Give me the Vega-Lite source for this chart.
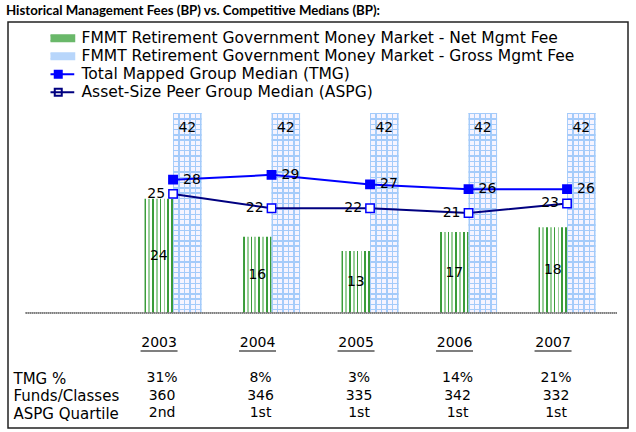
{
  "$schema": "https://vega.github.io/schema/vega-lite/v6.json",
  "width": 620,
  "height": 406,
  "autosize": {"type": "none"},
  "padding": {"left": 8, "top": 22, "right": 8, "bottom": 4},
  "background": "white",
  "title": {"text": "Historical Management Fees (BP) vs. Competitive Medians (BP):", "anchor": "start", "font": "Lato", "fontWeight": "bold", "fontSize": 13.25, "color": "black", "offset": 4, "dx": -2},
  "config": {
    "view": {"stroke": "#222222", "strokeWidth": 1.5},
    "font": "DejaVu Sans"
  },
  "datasets": {
    "fees": [
      {"year": "2003", "series": "Net", "value": 24},
      {"year": "2003", "series": "Gross", "value": 42},
      {"year": "2003", "series": "TMG", "value": 28},
      {"year": "2003", "series": "ASPG", "value": 25},
      {"year": "2004", "series": "Net", "value": 16},
      {"year": "2004", "series": "Gross", "value": 42},
      {"year": "2004", "series": "TMG", "value": 29},
      {"year": "2004", "series": "ASPG", "value": 22},
      {"year": "2005", "series": "Net", "value": 13},
      {"year": "2005", "series": "Gross", "value": 42},
      {"year": "2005", "series": "TMG", "value": 27},
      {"year": "2005", "series": "ASPG", "value": 22},
      {"year": "2006", "series": "Net", "value": 17},
      {"year": "2006", "series": "Gross", "value": 42},
      {"year": "2006", "series": "TMG", "value": 26},
      {"year": "2006", "series": "ASPG", "value": 21},
      {"year": "2007", "series": "Net", "value": 18},
      {"year": "2007", "series": "Gross", "value": 42},
      {"year": "2007", "series": "TMG", "value": 26},
      {"year": "2007", "series": "ASPG", "value": 23}
    ],
    "table": [
      {"year": "2003", "row": "Year", "text": "2003"},
      {"year": "2004", "row": "Year", "text": "2004"},
      {"year": "2005", "row": "Year", "text": "2005"},
      {"year": "2006", "row": "Year", "text": "2006"},
      {"year": "2007", "row": "Year", "text": "2007"},
      {"year": "2003", "row": "TMG %", "text": "31%"},
      {"year": "2004", "row": "TMG %", "text": "8%"},
      {"year": "2005", "row": "TMG %", "text": "3%"},
      {"year": "2006", "row": "TMG %", "text": "14%"},
      {"year": "2007", "row": "TMG %", "text": "21%"},
      {"year": "2003", "row": "Funds/Classes", "text": "360"},
      {"year": "2004", "row": "Funds/Classes", "text": "346"},
      {"year": "2005", "row": "Funds/Classes", "text": "335"},
      {"year": "2006", "row": "Funds/Classes", "text": "342"},
      {"year": "2007", "row": "Funds/Classes", "text": "332"},
      {"year": "2003", "row": "ASPG Quartile", "text": "2nd"},
      {"year": "2004", "row": "ASPG Quartile", "text": "1st"},
      {"year": "2005", "row": "ASPG Quartile", "text": "1st"},
      {"year": "2006", "row": "ASPG Quartile", "text": "1st"},
      {"year": "2007", "row": "ASPG Quartile", "text": "1st"}
    ]
  },
  "resolve": {"scale": {"y": "independent"}},
  "layer": [
    {
      "data": {"name": "fees"},
      "transform": [{"filter": {"field": "series", "equal": "Net"}}],
      "mark": {"type": "bar", "fill": {"gradient": "linear", "x1": 0, "x2": 1, "y1": 0, "y2": 0, "stops": [
        {"offset": 0, "color": "#3a9c3a"}, {"offset": 0.06, "color": "#3a9c3a"}, {"offset": 0.06, "color": "#ffffff"}, {"offset": 0.133, "color": "#ffffff"},
        {"offset": 0.133, "color": "#98cf98"}, {"offset": 0.193, "color": "#98cf98"}, {"offset": 0.193, "color": "#ffffff"}, {"offset": 0.266, "color": "#ffffff"},
        {"offset": 0.266, "color": "#3a9c3a"}, {"offset": 0.326, "color": "#3a9c3a"}, {"offset": 0.326, "color": "#ffffff"}, {"offset": 0.4, "color": "#ffffff"},
        {"offset": 0.4, "color": "#98cf98"}, {"offset": 0.46, "color": "#98cf98"}, {"offset": 0.46, "color": "#ffffff"}, {"offset": 0.533, "color": "#ffffff"},
        {"offset": 0.533, "color": "#3a9c3a"}, {"offset": 0.593, "color": "#3a9c3a"}, {"offset": 0.593, "color": "#ffffff"}, {"offset": 0.666, "color": "#ffffff"},
        {"offset": 0.666, "color": "#98cf98"}, {"offset": 0.726, "color": "#98cf98"}, {"offset": 0.726, "color": "#ffffff"}, {"offset": 0.8, "color": "#ffffff"},
        {"offset": 0.8, "color": "#3a9c3a"}, {"offset": 0.86, "color": "#3a9c3a"}, {"offset": 0.86, "color": "#ffffff"}, {"offset": 0.94, "color": "#ffffff"},
        {"offset": 0.94, "color": "#3a9c3a"}, {"offset": 1, "color": "#3a9c3a"}]}},
      "encoding": {
        "x": {"field": "year", "type": "nominal", "scale": {"domain": ["2003", "2004", "2005", "2006", "2007"], "paddingInner": 0.421, "paddingOuter": 0.8578, "align": 0.808}, "axis": null},
        "xOffset": {"field": "series", "type": "nominal", "scale": {"domain": ["Net", "Gross"], "paddingInner": 0, "paddingOuter": 0}},
        "y": {"field": "value", "type": "quantitative", "scale": {"domain": [-24.15, 61.1], "nice": false, "zero": false}, "axis": null}
      }
    },
    {
      "data": {"name": "fees"},
      "transform": [{"filter": {"field": "series", "equal": "Gross"}}],
      "mark": {"type": "bar", "fill": {"gradient": "linear", "x1": 0, "x2": 1, "y1": 0, "y2": 0, "stops": [
        {"offset": 0, "color": "#a4cbfa"}, {"offset": 0.05, "color": "#a4cbfa"}, {"offset": 0.05, "color": "#f6f4ff"}, {"offset": 0.19, "color": "#f6f4ff"},
        {"offset": 0.19, "color": "#a4cbfa"}, {"offset": 0.24, "color": "#a4cbfa"}, {"offset": 0.24, "color": "#f6f4ff"}, {"offset": 0.38, "color": "#f6f4ff"},
        {"offset": 0.38, "color": "#a4cbfa"}, {"offset": 0.43, "color": "#a4cbfa"}, {"offset": 0.43, "color": "#f6f4ff"}, {"offset": 0.57, "color": "#f6f4ff"},
        {"offset": 0.57, "color": "#a4cbfa"}, {"offset": 0.62, "color": "#a4cbfa"}, {"offset": 0.62, "color": "#f6f4ff"}, {"offset": 0.76, "color": "#f6f4ff"},
        {"offset": 0.76, "color": "#a4cbfa"}, {"offset": 0.81, "color": "#a4cbfa"}, {"offset": 0.81, "color": "#f6f4ff"}, {"offset": 0.95, "color": "#f6f4ff"},
        {"offset": 0.95, "color": "#a4cbfa"}, {"offset": 1, "color": "#a4cbfa"}]}},
      "encoding": {
        "x": {"field": "year", "type": "nominal"},
        "xOffset": {"field": "series", "type": "nominal"},
        "y": {"field": "value", "type": "quantitative", "scale": {"domain": [-24.15, 61.1], "nice": false, "zero": false}, "axis": null}
      }
    },
    {
      "data": {"name": "fees"},
      "transform": [{"filter": {"field": "series", "equal": "Gross"}}],
      "mark": {"type": "bar", "fill": {"gradient": "linear", "x1": 0, "x2": 0, "y1": 0, "y2": 1, "stops": [
        {"offset": 0, "color": "#a4cbfa"}, {"offset": 0.007, "color": "#a4cbfa"}, {"offset": 0.007, "color": "rgba(164,203,250,0)"}, {"offset": 0.0265, "color": "rgba(164,203,250,0)"},
        {"offset": 0.0265, "color": "#a4cbfa"}, {"offset": 0.0335, "color": "#a4cbfa"}, {"offset": 0.0335, "color": "rgba(164,203,250,0)"}, {"offset": 0.053, "color": "rgba(164,203,250,0)"},
        {"offset": 0.053, "color": "#a4cbfa"}, {"offset": 0.06, "color": "#a4cbfa"}, {"offset": 0.06, "color": "rgba(164,203,250,0)"}, {"offset": 0.0795, "color": "rgba(164,203,250,0)"},
        {"offset": 0.0795, "color": "#a4cbfa"}, {"offset": 0.0865, "color": "#a4cbfa"}, {"offset": 0.0865, "color": "rgba(164,203,250,0)"}, {"offset": 0.106, "color": "rgba(164,203,250,0)"},
        {"offset": 0.106, "color": "#a4cbfa"}, {"offset": 0.113, "color": "#a4cbfa"}, {"offset": 0.113, "color": "rgba(164,203,250,0)"}, {"offset": 0.1325, "color": "rgba(164,203,250,0)"},
        {"offset": 0.1325, "color": "#a4cbfa"}, {"offset": 0.1395, "color": "#a4cbfa"}, {"offset": 0.1395, "color": "rgba(164,203,250,0)"}, {"offset": 0.159, "color": "rgba(164,203,250,0)"},
        {"offset": 0.159, "color": "#a4cbfa"}, {"offset": 0.166, "color": "#a4cbfa"}, {"offset": 0.166, "color": "rgba(164,203,250,0)"}, {"offset": 0.1855, "color": "rgba(164,203,250,0)"},
        {"offset": 0.1855, "color": "#a4cbfa"}, {"offset": 0.1925, "color": "#a4cbfa"}, {"offset": 0.1925, "color": "rgba(164,203,250,0)"}, {"offset": 0.212, "color": "rgba(164,203,250,0)"},
        {"offset": 0.212, "color": "#a4cbfa"}, {"offset": 0.219, "color": "#a4cbfa"}, {"offset": 0.219, "color": "rgba(164,203,250,0)"}, {"offset": 0.2385, "color": "rgba(164,203,250,0)"},
        {"offset": 0.2385, "color": "#a4cbfa"}, {"offset": 0.2455, "color": "#a4cbfa"}, {"offset": 0.2455, "color": "rgba(164,203,250,0)"}, {"offset": 0.265, "color": "rgba(164,203,250,0)"},
        {"offset": 0.265, "color": "#a4cbfa"}, {"offset": 0.272, "color": "#a4cbfa"}, {"offset": 0.272, "color": "rgba(164,203,250,0)"}, {"offset": 0.2915, "color": "rgba(164,203,250,0)"},
        {"offset": 0.2915, "color": "#a4cbfa"}, {"offset": 0.2985, "color": "#a4cbfa"}, {"offset": 0.2985, "color": "rgba(164,203,250,0)"}, {"offset": 0.318, "color": "rgba(164,203,250,0)"},
        {"offset": 0.318, "color": "#a4cbfa"}, {"offset": 0.325, "color": "#a4cbfa"}, {"offset": 0.325, "color": "rgba(164,203,250,0)"}, {"offset": 0.3445, "color": "rgba(164,203,250,0)"},
        {"offset": 0.3445, "color": "#a4cbfa"}, {"offset": 0.3515, "color": "#a4cbfa"}, {"offset": 0.3515, "color": "rgba(164,203,250,0)"}, {"offset": 0.371, "color": "rgba(164,203,250,0)"},
        {"offset": 0.371, "color": "#a4cbfa"}, {"offset": 0.378, "color": "#a4cbfa"}, {"offset": 0.378, "color": "rgba(164,203,250,0)"}, {"offset": 0.3975, "color": "rgba(164,203,250,0)"},
        {"offset": 0.3975, "color": "#a4cbfa"}, {"offset": 0.4045, "color": "#a4cbfa"}, {"offset": 0.4045, "color": "rgba(164,203,250,0)"}, {"offset": 0.424, "color": "rgba(164,203,250,0)"},
        {"offset": 0.424, "color": "#a4cbfa"}, {"offset": 0.431, "color": "#a4cbfa"}, {"offset": 0.431, "color": "rgba(164,203,250,0)"}, {"offset": 0.4505, "color": "rgba(164,203,250,0)"},
        {"offset": 0.4505, "color": "#a4cbfa"}, {"offset": 0.4575, "color": "#a4cbfa"}, {"offset": 0.4575, "color": "rgba(164,203,250,0)"}, {"offset": 0.477, "color": "rgba(164,203,250,0)"},
        {"offset": 0.477, "color": "#a4cbfa"}, {"offset": 0.484, "color": "#a4cbfa"}, {"offset": 0.484, "color": "rgba(164,203,250,0)"}, {"offset": 0.5035, "color": "rgba(164,203,250,0)"},
        {"offset": 0.5035, "color": "#a4cbfa"}, {"offset": 0.5105, "color": "#a4cbfa"}, {"offset": 0.5105, "color": "rgba(164,203,250,0)"}, {"offset": 0.53, "color": "rgba(164,203,250,0)"},
        {"offset": 0.53, "color": "#a4cbfa"}, {"offset": 0.537, "color": "#a4cbfa"}, {"offset": 0.537, "color": "rgba(164,203,250,0)"}, {"offset": 0.5565, "color": "rgba(164,203,250,0)"},
        {"offset": 0.5565, "color": "#a4cbfa"}, {"offset": 0.5635, "color": "#a4cbfa"}, {"offset": 0.5635, "color": "rgba(164,203,250,0)"}, {"offset": 0.583, "color": "rgba(164,203,250,0)"},
        {"offset": 0.583, "color": "#a4cbfa"}, {"offset": 0.59, "color": "#a4cbfa"}, {"offset": 0.59, "color": "rgba(164,203,250,0)"}, {"offset": 0.6095, "color": "rgba(164,203,250,0)"},
        {"offset": 0.6095, "color": "#a4cbfa"}, {"offset": 0.6165, "color": "#a4cbfa"}, {"offset": 0.6165, "color": "rgba(164,203,250,0)"}, {"offset": 0.636, "color": "rgba(164,203,250,0)"},
        {"offset": 0.636, "color": "#a4cbfa"}, {"offset": 0.643, "color": "#a4cbfa"}, {"offset": 0.643, "color": "rgba(164,203,250,0)"}, {"offset": 0.6625, "color": "rgba(164,203,250,0)"},
        {"offset": 0.6625, "color": "#a4cbfa"}, {"offset": 0.6695, "color": "#a4cbfa"}, {"offset": 0.6695, "color": "rgba(164,203,250,0)"}, {"offset": 0.689, "color": "rgba(164,203,250,0)"},
        {"offset": 0.689, "color": "#a4cbfa"}, {"offset": 0.696, "color": "#a4cbfa"}, {"offset": 0.696, "color": "rgba(164,203,250,0)"}, {"offset": 0.7155, "color": "rgba(164,203,250,0)"},
        {"offset": 0.7155, "color": "#a4cbfa"}, {"offset": 0.7225, "color": "#a4cbfa"}, {"offset": 0.7225, "color": "rgba(164,203,250,0)"}, {"offset": 0.742, "color": "rgba(164,203,250,0)"},
        {"offset": 0.742, "color": "#a4cbfa"}, {"offset": 0.749, "color": "#a4cbfa"}, {"offset": 0.749, "color": "rgba(164,203,250,0)"}, {"offset": 0.7685, "color": "rgba(164,203,250,0)"},
        {"offset": 0.7685, "color": "#a4cbfa"}, {"offset": 0.7755, "color": "#a4cbfa"}, {"offset": 0.7755, "color": "rgba(164,203,250,0)"}, {"offset": 0.795, "color": "rgba(164,203,250,0)"},
        {"offset": 0.795, "color": "#a4cbfa"}, {"offset": 0.802, "color": "#a4cbfa"}, {"offset": 0.802, "color": "rgba(164,203,250,0)"}, {"offset": 0.8215, "color": "rgba(164,203,250,0)"},
        {"offset": 0.8215, "color": "#a4cbfa"}, {"offset": 0.8285, "color": "#a4cbfa"}, {"offset": 0.8285, "color": "rgba(164,203,250,0)"}, {"offset": 0.848, "color": "rgba(164,203,250,0)"},
        {"offset": 0.848, "color": "#a4cbfa"}, {"offset": 0.855, "color": "#a4cbfa"}, {"offset": 0.855, "color": "rgba(164,203,250,0)"}, {"offset": 0.8745, "color": "rgba(164,203,250,0)"},
        {"offset": 0.8745, "color": "#a4cbfa"}, {"offset": 0.8815, "color": "#a4cbfa"}, {"offset": 0.8815, "color": "rgba(164,203,250,0)"}, {"offset": 0.901, "color": "rgba(164,203,250,0)"},
        {"offset": 0.901, "color": "#a4cbfa"}, {"offset": 0.908, "color": "#a4cbfa"}, {"offset": 0.908, "color": "rgba(164,203,250,0)"}, {"offset": 0.9275, "color": "rgba(164,203,250,0)"},
        {"offset": 0.9275, "color": "#a4cbfa"}, {"offset": 0.9345, "color": "#a4cbfa"}, {"offset": 0.9345, "color": "rgba(164,203,250,0)"}, {"offset": 0.954, "color": "rgba(164,203,250,0)"},
        {"offset": 0.954, "color": "#a4cbfa"}, {"offset": 0.961, "color": "#a4cbfa"}, {"offset": 0.961, "color": "rgba(164,203,250,0)"}, {"offset": 0.9805, "color": "rgba(164,203,250,0)"},
        {"offset": 0.9805, "color": "#a4cbfa"}, {"offset": 0.9875, "color": "#a4cbfa"}, {"offset": 0.9875, "color": "rgba(164,203,250,0)"}, {"offset": 1, "color": "rgba(164,203,250,0)"}]}},
      "encoding": {
        "x": {"field": "year", "type": "nominal"},
        "xOffset": {"field": "series", "type": "nominal"},
        "y": {"field": "value", "type": "quantitative", "scale": {"domain": [-24.15, 61.1], "nice": false, "zero": false}, "axis": null}
      }
    },
    {
      "data": {"name": "fees"},
      "transform": [{"filter": {"field": "series", "equal": "Gross"}}],
      "mark": {"type": "text", "fontSize": 14, "dy": 15, "baseline": "middle", "color": "black"},
      "encoding": {
        "x": {"field": "year", "type": "nominal"},
        "xOffset": {"field": "series", "type": "nominal"},
        "y": {"field": "value", "type": "quantitative", "scale": {"domain": [-24.15, 61.1], "nice": false, "zero": false}, "axis": null},
        "text": {"field": "value"}
      }
    },
    {
      "data": {"name": "fees"},
      "transform": [{"filter": {"field": "series", "equal": "Net"}}],
      "mark": {"type": "text", "fontSize": 14, "baseline": "middle", "color": "black"},
      "encoding": {
        "x": {"field": "year", "type": "nominal"},
        "xOffset": {"field": "series", "type": "nominal"},
        "y": {"field": "value", "type": "quantitative", "scale": {"domain": [-48.3, 122.2], "nice": false, "zero": false}, "axis": null},
        "text": {"field": "value"}
      }
    },
    {
      "data": {"name": "fees"},
      "mark": {"type": "rule", "color": "#808080", "strokeWidth": 1, "strokeDash": [1, 1]},
      "encoding": {
        "x": {"datum": "2003", "bandPosition": -2.08},
        "x2": {"datum": "2007", "bandPosition": 1.377},
        "y": {"datum": 0, "type": "quantitative", "scale": {"domain": [-24.15, 61.1], "nice": false, "zero": false}, "axis": null}
      }
    },
    {
      "data": {"name": "fees"},
      "transform": [{"filter": {"field": "series", "oneOf": ["TMG", "ASPG"]}}],
      "mark": {"type": "line", "strokeWidth": 2},
      "encoding": {
        "x": {"field": "year", "type": "nominal"},
        "y": {"field": "value", "type": "quantitative", "scale": {"domain": [-24.15, 61.1], "nice": false, "zero": false}, "axis": null},
        "stroke": {"field": "series", "type": "nominal"}
      }
    },
    {
      "data": {"name": "fees"},
      "transform": [{"filter": {"field": "series", "oneOf": ["TMG", "ASPG"]}}],
      "mark": {"type": "point", "shape": "square", "size": 70, "filled": true, "opacity": 1, "stroke": "#0000ff", "strokeWidth": 1.5},
      "encoding": {
        "x": {"field": "year", "type": "nominal"},
        "y": {"field": "value", "type": "quantitative", "scale": {"domain": [-24.15, 61.1], "nice": false, "zero": false}, "axis": null},
        "fill": {"field": "series", "type": "nominal"}
      }
    },
    {
      "data": {"name": "fees"},
      "transform": [{"filter": {"field": "series", "equal": "TMG"}}],
      "mark": {"type": "text", "fontSize": 14, "align": "left", "dx": 10, "baseline": "middle", "color": "black"},
      "encoding": {
        "x": {"field": "year", "type": "nominal"},
        "y": {"field": "value", "type": "quantitative", "scale": {"domain": [-24.15, 61.1], "nice": false, "zero": false}, "axis": null},
        "text": {"field": "value"}
      }
    },
    {
      "data": {"name": "fees"},
      "transform": [{"filter": {"field": "series", "equal": "ASPG"}}],
      "mark": {"type": "text", "fontSize": 14, "align": "right", "dx": -8, "baseline": "middle", "color": "black"},
      "encoding": {
        "x": {"field": "year", "type": "nominal"},
        "y": {"field": "value", "type": "quantitative", "scale": {"domain": [-24.15, 61.1], "nice": false, "zero": false}, "axis": null},
        "text": {"field": "value"}
      }
    },
    {
      "data": {"name": "table"},
      "transform": [{"filter": "datum.row != 'Year'"}],
      "mark": {"type": "text", "fontSize": 14, "align": "center", "baseline": "middle", "xOffset": -11, "color": "black"},
      "encoding": {
        "x": {"field": "year", "type": "nominal"},
        "y": {"field": "row", "type": "nominal", "scale": {"type": "point", "domain": ["Year", "gap", "TMG %", "Funds/Classes", "ASPG Quartile"], "range": [321, 391], "padding": 0},
          "axis": {"orient": "left", "labelAlign": "left", "ticks": false, "tickSize": 0, "domain": false, "grid": false, "labelPadding": -5, "labelFontSize": 15, "labelColor": "black", "labelFont": "DejaVu Sans", "labelBaseline": "middle", "title": null, "labelExpr": "datum.label == 'Year' || datum.label == 'gap' ? '' : datum.label"}},
        "text": {"field": "text"}
      }
    },
    {
      "data": {"name": "table"},
      "transform": [{"filter": "datum.row == 'Year'"}],
      "mark": {"type": "text", "fontSize": 14, "align": "center", "baseline": "middle", "xOffset": -14, "color": "black"},
      "encoding": {
        "x": {"field": "year", "type": "nominal"},
        "y": {"field": "row", "type": "nominal", "scale": {"type": "point", "domain": ["Year", "gap", "TMG %", "Funds/Classes", "ASPG Quartile"], "range": [321, 391], "padding": 0}, "axis": null},
        "text": {"field": "text"}
      }
    },
    {
      "data": {"name": "table"},
      "transform": [{"filter": "datum.row == 'Year'"}],
      "mark": {"type": "tick", "orient": "horizontal", "size": 37, "thickness": 1, "xOffset": -14, "yOffset": 8, "color": "black", "opacity": 1},
      "encoding": {
        "x": {"field": "year", "type": "nominal"},
        "y": {"field": "row", "type": "nominal", "scale": {"type": "point", "domain": ["Year", "gap", "TMG %", "Funds/Classes", "ASPG Quartile"], "range": [321, 391], "padding": 0}, "axis": null}
      }
    },
    {
      "data": {"name": "fees"},
      "transform": [{"filter": "false"}],
      "mark": {"type": "point", "filled": true, "opacity": 1},
      "encoding": {
        "fill": {"field": "series", "type": "nominal",
          "scale": {"domain": ["Net", "Gross", "TMG", "ASPG"], "range": ["#6ab86a", "#b8d6fb", "#0000ff", "#ffffff"]},
          "legend": {"orient": "none", "legendX": 42.5, "legendY": 10, "title": null, "labelFontSize": 15.5, "labelColor": "black", "symbolSize": 100, "symbolStrokeWidth": 2, "symbolOpacity": 1, "clipHeight": 12.5, "rowPadding": 2, "labelOffset": 15.5, "padding": 0, "labelLimit": 600,
            "labelExpr": "{'Net': 'FMMT Retirement Government Money Market - Net Mgmt Fee', 'Gross': 'FMMT Retirement Government Money Market - Gross Mgmt Fee', 'TMG': 'Total Mapped Group Median (TMG)', 'ASPG': 'Asset-Size Peer Group Median (ASPG)'}[datum.label]"}},
        "stroke": {"field": "series", "type": "nominal",
          "scale": {"domain": ["Net", "Gross", "TMG", "ASPG"], "range": ["#6ab86a", "#b8d6fb", "#0000ff", "#000080"]},
          "legend": {"orient": "none", "legendX": 42.5, "legendY": 10, "title": null, "labelFontSize": 15.5, "labelColor": "black", "symbolSize": 100, "symbolStrokeWidth": 2, "symbolOpacity": 1, "clipHeight": 12.5, "rowPadding": 2, "labelOffset": 15.5, "padding": 0, "labelLimit": 600,
            "labelExpr": "{'Net': 'FMMT Retirement Government Money Market - Net Mgmt Fee', 'Gross': 'FMMT Retirement Government Money Market - Gross Mgmt Fee', 'TMG': 'Total Mapped Group Median (TMG)', 'ASPG': 'Asset-Size Peer Group Median (ASPG)'}[datum.label]"}},
        "shape": {"field": "series", "type": "nominal",
          "scale": {"domain": ["Net", "Gross", "TMG", "ASPG"], "range": ["M-3.2,-0.6H3.2V0.6H-3.2Z", "M-3.2,-0.6H3.2V0.6H-3.2Z", "M-3.2,0H3.2M-0.7,-0.7H0.7V0.7H-0.7Z", "M-3.2,0H3.2M-0.7,-0.7H0.7V0.7H-0.7Z"]},
          "legend": {"orient": "none", "legendX": 42.5, "legendY": 10, "title": null, "labelFontSize": 15.5, "labelColor": "black", "symbolSize": 100, "symbolStrokeWidth": 2, "symbolOpacity": 1, "clipHeight": 12.5, "rowPadding": 2, "labelOffset": 15.5, "padding": 0, "labelLimit": 600,
            "labelExpr": "{'Net': 'FMMT Retirement Government Money Market - Net Mgmt Fee', 'Gross': 'FMMT Retirement Government Money Market - Gross Mgmt Fee', 'TMG': 'Total Mapped Group Median (TMG)', 'ASPG': 'Asset-Size Peer Group Median (ASPG)'}[datum.label]"}}
      }
    }
  ]
}
